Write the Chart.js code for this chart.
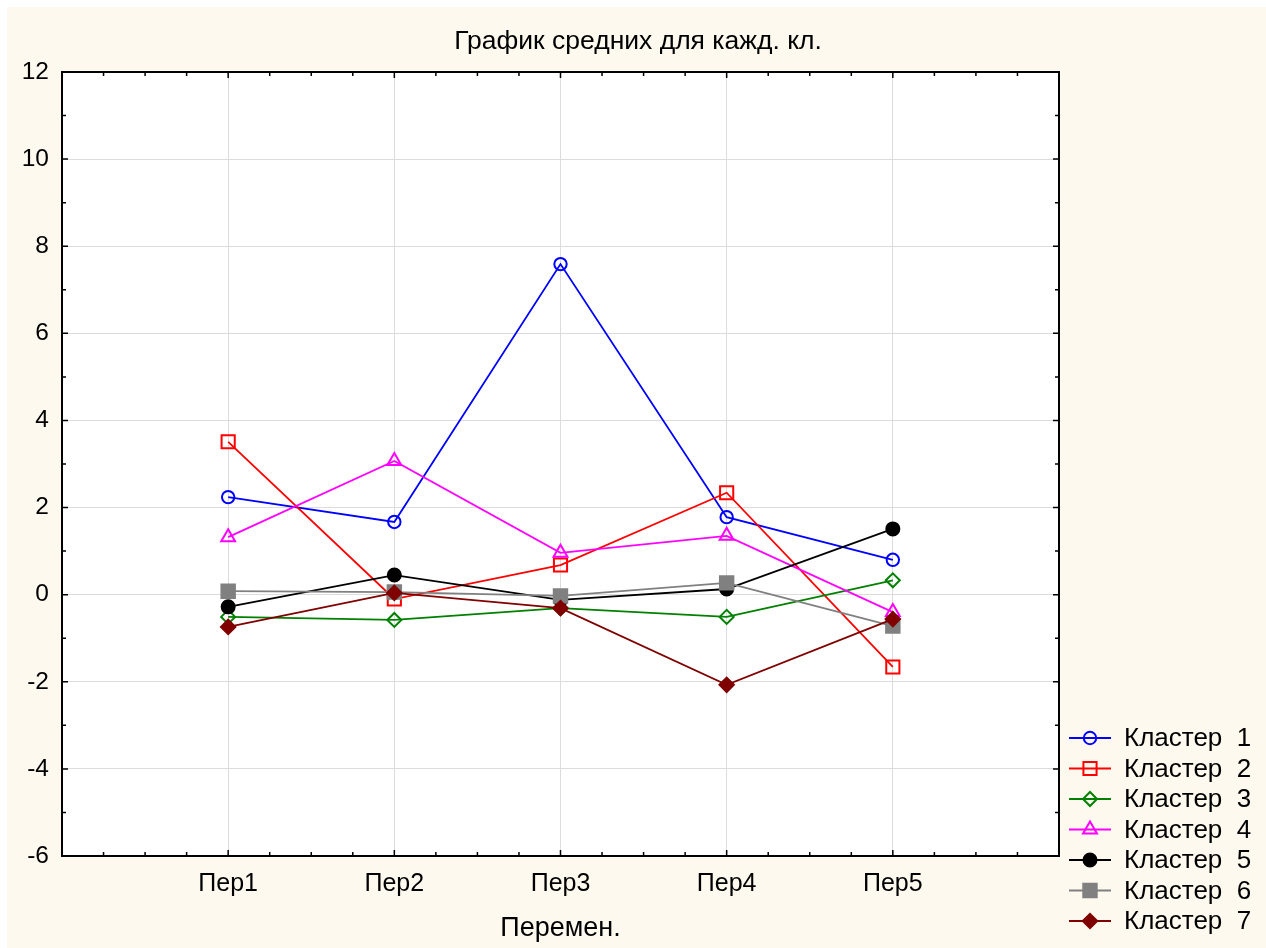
<!DOCTYPE html>
<html>
<head>
<meta charset="utf-8">
<script src="https://cdn.jsdelivr.net/npm/chart.js@4"></script>
<style>
  html, body { margin: 0; padding: 0; background: #ffffff; }
  #wrap { width: 1266px; height: 948px; }
</style>
</head>
<body>
<div id="wrap"><canvas id="myChart" width="1266" height="948"></canvas></div>
<script>
// categories and cluster means
var categories = ["Пер1", "Пер2", "Пер3", "Пер4", "Пер5"];
var names = ["Кластер  1", "Кластер  2", "Кластер  3", "Кластер  4", "Кластер  5", "Кластер  6", "Кластер  7"];
var cl1 = [2.24, 1.67, 7.59, 1.78, 0.80];
var cl2 = [3.51, -0.10, 0.68, 2.34, -1.66];
var cl3 = [-0.51, -0.58, -0.31, -0.51, 0.33];
var cl4 = [1.32, 3.07, 0.96, 1.35, -0.40];
var cl5 = [-0.28, 0.45, -0.12, 0.13, 1.51];
var cl6 = [0.08, 0.06, -0.03, 0.27, -0.72];
var cl7 = [-0.74, 0.04, -0.31, -2.07, -0.56];
var yTicks = [-6, -4, -2, 0, 2, 4, 6, 8, 10, 12];

var FONT = "'Liberation Sans', Arial, sans-serif";
var cream = "#fef9ee";
var gridCol = "#dcdcdc";

function mk(label, values, color, style, radius, filled) {
    return {
        label: label,
        data: values.map((v, i) => ({x: i + 1, y: v})),
        borderColor: color,
        borderWidth: 1.8,
        pointStyle: style,
        pointRadius: radius,
        pointHoverRadius: radius,
        pointBorderColor: color,
        pointBackgroundColor: filled ? color : "rgba(0,0,0,0)",
        pointBorderWidth: 2,
        tension: 0
    };
}

var datasets = [
    mk(names[0], cl1, "#0000ff", "circle", 6.2, false),
    mk(names[1], cl2, "#ff0000", "rect", 9.3, false),
    mk(names[2], cl3, "#008000", "rectRot", 7, false),
    mk(names[3], cl4, "#ff00ff", "triangle", 8, false),
    mk(names[4], cl5, "#000000", "circle", 6.5, true),
    mk(names[5], cl6, "#808080", "rect", 9.5, true),
    mk(names[6], cl7, "#800000", "rectRot", 7.2, true)
];
// later clusters on top
datasets.forEach((d, i) => d.order = datasets.length - i);

var framePlugin = {
    id: "frame",
    beforeDraw(chart) {
        let c = chart.ctx, a = chart.chartArea;
        c.save();
        c.fillStyle = "#ffffff";
        c.fillRect(0, 0, chart.width, chart.height);
        c.fillStyle = cream;
        c.fillRect(7, 7, chart.width - 7, chart.height - 7);
        c.fillStyle = "#ffffff";
        c.fillRect(a.left, a.top, a.right - a.left, a.bottom - a.top);
        // title
        c.fillStyle = "#000";
        c.font = "26.5px " + FONT;
        c.textAlign = "center";
        c.textBaseline = "middle";
        c.fillText("График средних для кажд. кл.", 638, 42);
        c.restore();
    },
    afterDraw(chart) {
        let c = chart.ctx, a = chart.chartArea;
        let xs = chart.scales.x, ys = chart.scales.y;
        c.save();
        c.strokeStyle = "#000";
        c.lineWidth = 1.5;
        c.beginPath();
        xs.ticks.forEach(t => {
            if (t.value <= 0 || t.value >= 6) return;
            let px = xs.getPixelForValue(t.value);
            let len = Number.isInteger(t.value) ? 6 : 4;
            c.moveTo(px, a.bottom); c.lineTo(px, a.bottom - len);
            c.moveTo(px, a.top); c.lineTo(px, a.top + len);
        });
        ys.ticks.forEach(t => {
            if (t.value <= -6 || t.value >= 12) return;
            let py = ys.getPixelForValue(t.value);
            let len = t.value % 2 === 0 ? 6 : 4;
            c.moveTo(a.left, py); c.lineTo(a.left + len, py);
            c.moveTo(a.right, py); c.lineTo(a.right - len, py);
        });
        c.stroke();
        c.lineWidth = 2;
        c.strokeRect(a.left, a.top, a.right - a.left, a.bottom - a.top);

        // legend: line with marker
        let ds = chart.data.datasets;
        c.font = "26px " + FONT;
        c.textAlign = "left";
        c.textBaseline = "middle";
        ds.forEach((d, i) => {
            let y = 738 + i * 30.5;
            c.strokeStyle = d.borderColor;
            c.lineWidth = 1.8;
            c.beginPath();
            c.moveTo(1069, y); c.lineTo(1111, y);
            c.stroke();
            c.fillStyle = d.pointBackgroundColor;
            c.lineWidth = d.pointBorderWidth;
            Chart.helpers.drawPoint(c, {pointStyle: d.pointStyle, radius: d.pointRadius, rotation: 0, borderWidth: d.pointBorderWidth}, 1090, y);
            c.fillStyle = "#000";
            c.fillText(d.label, 1124, y + 1);
        });
        c.restore();
    }
};

var ctx = document.getElementById("myChart");
var myChart = new Chart(ctx, {
    type: "line",
    data: { datasets: datasets },
    options: {
        responsive: false,
        animation: false,
        events: [],
        layout: { padding: { top: 72, right: 207, bottom: 0, left: 0 } },
        plugins: {
            legend: { display: false },
            tooltip: { enabled: false },
            title: { display: false }
        },
        scales: {
            x: {
                type: "linear",
                min: 0,
                max: 6,
                afterFit: s => { s.height = 92; },
                border: { display: false },
                grid: {
                    drawTicks: false,
                    lineWidth: 1,
                    color: c => (Number.isInteger(c.tick.value) && c.tick.value >= 1 && c.tick.value <= 5) ? gridCol : "rgba(0,0,0,0)"
                },
                ticks: {
                    stepSize: 0.25,
                    autoSkip: false,
                    maxRotation: 0,
                    padding: 13,
                    color: "#000",
                    font: { family: FONT, size: 25 },
                    callback: v => (Number.isInteger(v) && v >= 1 && v <= 5) ? categories[v - 1] : ""
                },
                title: {
                    display: true,
                    text: "Перемен.",
                    color: "#000",
                    font: { family: FONT, size: 27 },
                    padding: { top: 0, bottom: 3 }
                }
            },
            y: {
                min: -6,
                max: 12,
                afterFit: s => { s.width = 62; },
                border: { display: false },
                grid: {
                    drawTicks: false,
                    lineWidth: 1,
                    color: c => (c.tick.value % 2 === 0) ? gridCol : "rgba(0,0,0,0)"
                },
                ticks: {
                    stepSize: 1,
                    autoSkip: false,
                    padding: 13,
                    color: "#000",
                    font: { family: FONT, size: 24.5 },
                    callback: v => yTicks.includes(v) ? String(v) : ""
                }
            }
        }
    },
    plugins: [framePlugin]
});
</script>
</body>
</html>
